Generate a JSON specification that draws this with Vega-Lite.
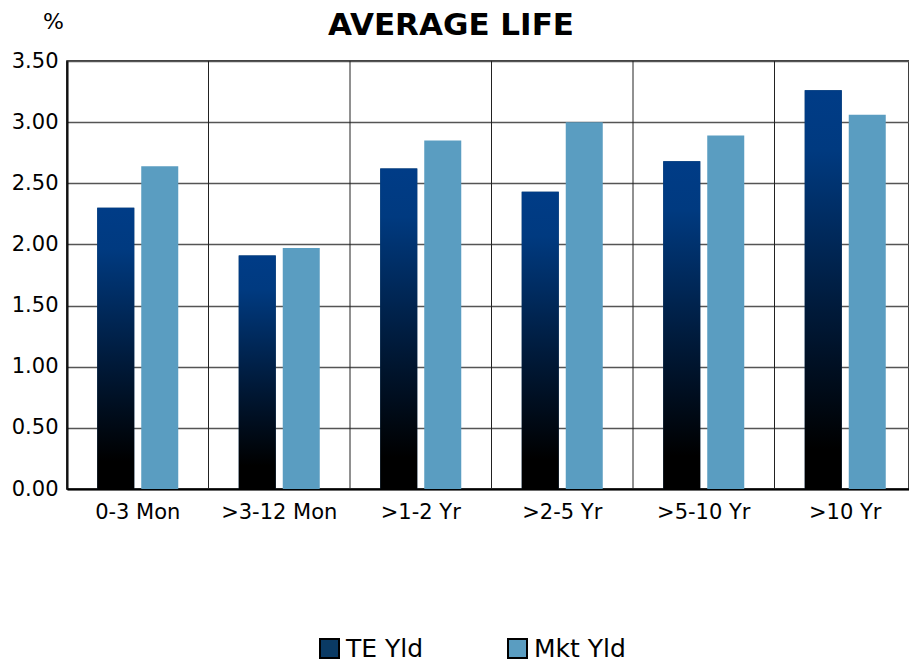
{
  "$schema": "https://vega.github.io/schema/vega-lite/v6.json",
  "autosize": "none",
  "width": 842,
  "height": 428,
  "padding": {"left": 67, "top": 61, "right": 0, "bottom": 172},
  "background": "white",
  "config": {
    "font": "DejaVu Sans",
    "view": {"stroke": "black", "strokeWidth": 1.5}
  },
  "title": {
    "text": "AVERAGE LIFE",
    "fontSize": 31,
    "fontWeight": "bold",
    "color": "black",
    "anchor": "middle",
    "dx": -37,
    "dy": 40,
    "offset": 8
  },
  "data": {
    "values": [
      {"cat": "0-3 Mon", "series": "TE Yld", "value": 2.30},
      {"cat": "0-3 Mon", "series": "Mkt Yld", "value": 2.64},
      {"cat": ">3-12 Mon", "series": "TE Yld", "value": 1.91},
      {"cat": ">3-12 Mon", "series": "Mkt Yld", "value": 1.97},
      {"cat": ">1-2 Yr", "series": "TE Yld", "value": 2.62},
      {"cat": ">1-2 Yr", "series": "Mkt Yld", "value": 2.85},
      {"cat": ">2-5 Yr", "series": "TE Yld", "value": 2.43},
      {"cat": ">2-5 Yr", "series": "Mkt Yld", "value": 3.00},
      {"cat": ">5-10 Yr", "series": "TE Yld", "value": 2.68},
      {"cat": ">5-10 Yr", "series": "Mkt Yld", "value": 2.89},
      {"cat": ">10 Yr", "series": "TE Yld", "value": 3.26},
      {"cat": ">10 Yr", "series": "Mkt Yld", "value": 3.06}
    ]
  },
  "encoding": {
    "x": {
      "field": "cat",
      "type": "nominal",
      "sort": ["0-3 Mon", ">3-12 Mon", ">1-2 Yr", ">2-5 Yr", ">5-10 Yr", ">10 Yr"],
      "scale": {"range": [0, 849], "paddingInner": 0, "paddingOuter": 0},
      "axis": {
        "title": null,
        "labelAngle": 0,
        "labelFontSize": 21,
        "labelColor": "black",
        "labelPadding": 12,
        "ticks": false,
        "grid": false,
        "domainColor": "black",
        "domainWidth": 2
      }
    }
  },
  "layer": [
    {
      "transform": [{"filter": "datum.series === 'TE Yld'"}],
      "mark": {"type": "rule", "color": "#222", "strokeWidth": 1},
      "encoding": {
        "x": {"field": "cat", "type": "nominal", "bandPosition": 0,
              "sort": ["0-3 Mon", ">3-12 Mon", ">1-2 Yr", ">2-5 Yr", ">5-10 Yr", ">10 Yr"]}
      }
    },
    {
      "mark": {"type": "bar"},
      "encoding": {
        "xOffset": {
          "field": "series",
          "type": "nominal",
          "sort": ["TE Yld", "Mkt Yld"],
          "scale": {"domain": ["TE Yld", "Mkt Yld"], "paddingInner": 0.159, "paddingOuter": 0.6875}
        },
        "y": {
          "field": "value",
          "type": "quantitative",
          "scale": {"domain": [0, 3.5], "nice": false},
          "axis": {
            "values": [0, 0.5, 1, 1.5, 2, 2.5, 3, 3.5],
            "format": ".2f",
            "title": "%",
            "titleAngle": 0,
            "titleX": -14,
            "titleY": -40,
            "titleAlign": "center",
            "titleBaseline": "middle",
            "titleFontSize": 22,
            "titleFontWeight": "normal",
            "titleColor": "black",
            "labelFontSize": 21,
            "labelColor": "black",
            "labelPadding": 9,
            "ticks": false,
            "grid": true,
            "gridColor": "#555",
            "gridWidth": 1.5,
            "domainColor": "black",
            "domainWidth": 2
          }
        },
        "color": {
          "field": "series",
          "type": "nominal",
          "sort": ["TE Yld", "Mkt Yld"],
          "scale": {"domain": ["TE Yld", "Mkt Yld"], "range": ["#0a3a64", "#5a9dc1"]},
          "legend": {
            "title": null,
            "orient": "none",
            "legendX": 250,
            "legendY": 575,
            "direction": "horizontal",
            "columns": 2,
            "columnPadding": 80,
            "symbolType": "square",
            "symbolSize": 361,
            "symbolStrokeColor": "black",
            "symbolStrokeWidth": 2,
            "symbolOpacity": 1,
            "labelFontSize": 25,
            "labelColor": "black",
            "labelOffset": 4,
            "labelLimit": 300
          }
        }
      }
    },
    {
      "transform": [{"filter": "datum.series === 'TE Yld'"}],
      "mark": {
        "type": "bar",
        "fill": {
          "gradient": "linear",
          "x1": 0, "y1": 0, "x2": 0, "y2": 1,
          "stops": [
            {"offset": 0, "color": "#003c87"},
            {"offset": 0.15, "color": "#003a80"},
            {"offset": 0.55, "color": "#001a3a"},
            {"offset": 0.9, "color": "#000000"},
            {"offset": 1, "color": "#000000"}
          ]
        }
      },
      "encoding": {
        "xOffset": {
          "field": "series",
          "type": "nominal",
          "sort": ["TE Yld", "Mkt Yld"],
          "scale": {"domain": ["TE Yld", "Mkt Yld"], "paddingInner": 0.159, "paddingOuter": 0.6875}
        },
        "y": {"field": "value", "type": "quantitative"}
      }
    }
  ]
}
